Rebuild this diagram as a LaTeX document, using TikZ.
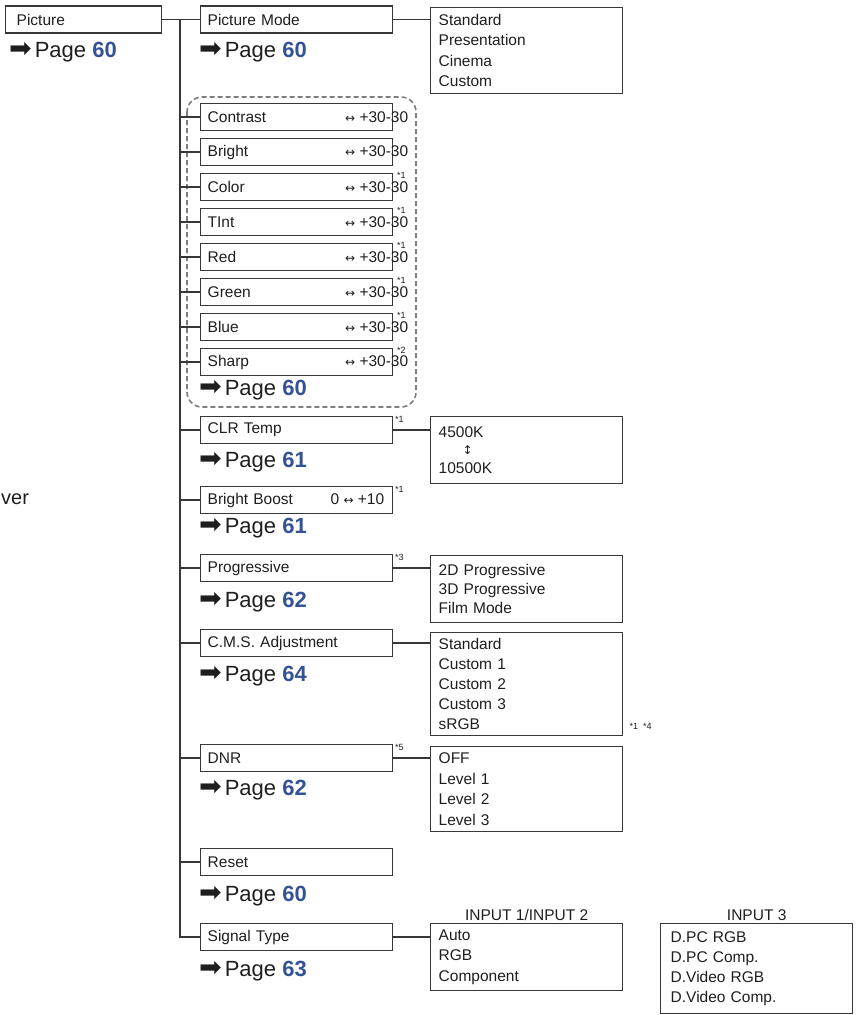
\documentclass[tikz,border=0pt]{standalone}
\usepackage{fontspec}
\setmainfont{Liberation Sans}
\newfontfamily\symfont{DejaVu Sans}
\usepackage{xcolor}
\usepackage{tikz}
\usetikzlibrary{positioning}
\definecolor{linegray}{RGB}{55,55,55}
\definecolor{dashgray}{RGB}{125,125,125}
\definecolor{pageblue}{RGB}{52,82,150}
\definecolor{inkblack}{RGB}{30,30,30}
\newcommand{\pagearrow}{{\symfont\fontsize{27}{27}\selectfont ➡}\kern3pt}
\newcommand{\pagenum}[1]{\textcolor{pageblue}{\bfseries #1}}
\newcommand{\lrarrow}{{\symfont\fontsize{12}{12}\selectfont ↔}}
\newcommand{\udarrow}{{\symfont\fontsize{12}{12}\selectfont ↕}}
\tikzset{
    menubox/.style = {rectangle, draw=linegray, line width=1.4pt, anchor=west, align=left, minimum width=192pt, minimum height=27pt, text width=178pt, inner xsep=7pt, inner ysep=0pt, font=\fontsize{15.5}{18}\selectfont},
    optbox/.style = {rectangle, draw=linegray, line width=1.4pt, anchor=north west, align=left, minimum width=192pt, text width=176pt, inner xsep=8pt, font=\fontsize{15.5}{20.5}\selectfont},
    valnode/.style = {anchor=base east, inner sep=0pt, font=\fontsize{15.5}{18}\selectfont},
    notenode/.style = {inner sep=0pt, font=\fontsize{9}{9}\selectfont},
    pagenode/.style = {anchor=base west, inner sep=0pt, font=\fontsize{22}{24}\selectfont},
    inputnode/.style = {inner sep=1pt, font=\fontsize{15.5}{18}\selectfont},
}
\begin{document}
\begin{tikzpicture}[
	x=1pt, y=-1pt,
	text=inkblack
]
\tikzset{
    edgethin/.style = {-, line width=1.2pt, linegray},
    edgethick/.style = {-, line width=2.6pt, linegray},
    trunkline/.style = {-, line width=1.5pt, linegray},
    groupline/.style = {dashgray, line width=1.6pt, dash pattern=on 5pt off 3pt, rounded corners=15pt},
}
\useasboundingbox (0,0) rectangle (857,1015);
\node[menubox, minimum width=156pt, text width=134pt, inner xsep=11pt] at (5,19.5) (pic) {Picture};
\node[pagenode] at (9,57) (picpage) {\pagearrow Page \pagenum{60}};
\node[anchor=base west, inner sep=0pt, font=\fontsize{20}{20}\selectfont] at (1,504) (vertext) {ver};
\node[menubox] at (200,19.5) (pm) {Picture Mode};
\node[pagenode] at (199,57) (pmpage) {\pagearrow Page \pagenum{60}};
\node[optbox, minimum height=86pt] at (430,7) (pmopts) {Standard\\Presentation\\Cinema\\Custom};
%
\draw[groupline] (187,97) rectangle (416,407);
\node[menubox] at (200,117) (contrast) {Contrast};
\node[menubox] at (200,152) (bright) {Bright};
\node[menubox] at (200,187) (color) {Color};
\node[menubox] at (200,222) (tint) {TInt};
\node[menubox] at (200,257) (red) {Red};
\node[menubox] at (200,292) (green) {Green};
\node[menubox] at (200,327) (blue) {Blue};
\node[menubox] at (200,362) (sharp) {Sharp};
\node[valnode] at ([xshift=15pt]contrast.base east) (contrastv) {\lrarrow\ +30-30};
\node[valnode] at ([xshift=15pt]bright.base east) (brightv) {\lrarrow\ +30-30};
\node[valnode] at ([xshift=15pt]color.base east) (colorv) {\lrarrow\ +30-30};
\node[valnode] at ([xshift=15pt]tint.base east) (tintv) {\lrarrow\ +30-30};
\node[valnode] at ([xshift=15pt]red.base east) (redv) {\lrarrow\ +30-30};
\node[valnode] at ([xshift=15pt]green.base east) (greenv) {\lrarrow\ +30-30};
\node[valnode] at ([xshift=15pt]blue.base east) (bluev) {\lrarrow\ +30-30};
\node[valnode] at ([xshift=15pt]sharp.base east) (sharpv) {\lrarrow\ +30-30};
\node[notenode] at ([xshift=8pt,yshift=-3pt]color.north east) (colorn) {*1};
\node[notenode] at ([xshift=8pt,yshift=-3pt]tint.north east) (tintn) {*1};
\node[notenode] at ([xshift=8pt,yshift=-3pt]red.north east) (redn) {*1};
\node[notenode] at ([xshift=8pt,yshift=-3pt]green.north east) (greenn) {*1};
\node[notenode] at ([xshift=8pt,yshift=-3pt]blue.north east) (bluen) {*1};
\node[notenode] at ([xshift=8pt,yshift=-3pt]sharp.north east) (sharpn) {*2};
\node[pagenode] at (199,395) (grppage) {\pagearrow Page \pagenum{60}};
%
\node[menubox] at (200,430) (clr) {CLR Temp};
\node[notenode] at ([xshift=6pt,yshift=-4pt]clr.north east) (clrn) {*1};
\node[pagenode] at (199,467) (clrpage) {\pagearrow Page \pagenum{61}};
\node[optbox, minimum height=67pt] at (430,416) (clropts) {4500K\\[-4pt]\hspace*{24pt}\udarrow\\[-1pt]10500K};
%
\node[menubox] at (200,500) (boost) {Bright Boost};
\node[valnode] at ([xshift=-9pt]boost.base east) (boostv) {0 \lrarrow\ +10};
\node[notenode] at ([xshift=6pt,yshift=-4pt]boost.north east) (boostn) {*1};
\node[pagenode] at (199,533) (boostpage) {\pagearrow Page \pagenum{61}};
%
\node[menubox] at (200,568) (prog) {Progressive};
\node[notenode] at ([xshift=6pt,yshift=-4pt]prog.north east) (progn) {*3};
\node[pagenode] at (199,607) (progpage) {\pagearrow Page \pagenum{62}};
\node[optbox, minimum height=67pt, font=\fontsize{15.5}{19}\selectfont] at (430,555) (progopts) {2D Progressive\\3D Progressive\\Film Mode};
%
\node[menubox] at (200,643) (cms) {C.M.S. Adjustment};
\node[pagenode] at (199,681) (cmspage) {\pagearrow Page \pagenum{64}};
\node[optbox, minimum height=103pt, font=\fontsize{15.5}{20}\selectfont] at (430,632) (cmsopts) {Standard\\Custom 1\\Custom 2\\Custom 3\\sRGB};
\node[notenode, anchor=west] at ([xshift=6pt,yshift=10pt]cmsopts.south east) (cmsn) {*1\hspace{5pt}*4};
%
\node[menubox] at (200,758) (dnr) {DNR};
\node[notenode] at ([xshift=6pt,yshift=-4pt]dnr.north east) (dnrn) {*5};
\node[pagenode] at (199,795) (dnrpage) {\pagearrow Page \pagenum{62}};
\node[optbox, minimum height=85pt] at (430,746) (dnropts) {OFF\\Level 1\\Level 2\\Level 3};
%
\node[menubox] at (200,862) (reset) {Reset};
\node[pagenode] at (199,901) (resetpage) {\pagearrow Page \pagenum{60}};
%
\node[menubox] at (200,937) (sig) {Signal Type};
\node[pagenode] at (199,976) (sigpage) {\pagearrow Page \pagenum{63}};
\node[optbox, minimum height=67pt] at (430,923) (in1) {Auto\\RGB\\Component};
\node[optbox, minimum height=90pt, font=\fontsize{15.5}{20}\selectfont, inner xsep=10pt, text width=172pt] at (660,923) (in3) {D.PC RGB\\D.PC Comp.\\D.Video RGB\\D.Video Comp.};
\node[inputnode, above=1pt of in1] (in1lbl) {INPUT 1/INPUT 2};
\node[inputnode, above=1pt of in3] (in3lbl) {INPUT 3};
%
\coordinate (trunk) at (180,19.5);
\draw[edgethin] (pic.east) -- (pm.west);
\draw[trunkline] (trunk) -- (trunk |- sig.west);
\draw[edgethick] ([xshift=-0.75pt]trunk |- sig.west) -- (sig.west);
%
\draw[edgethin] (trunk |- contrast.west) -- (contrast.west);
\draw[edgethin] (trunk |- bright.west) -- (bright.west);
\draw[edgethin] (trunk |- color.west) -- (color.west);
\draw[edgethin] (trunk |- tint.west) -- (tint.west);
\draw[edgethin] (trunk |- red.west) -- (red.west);
\draw[edgethick] (trunk |- green.west) -- (green.west);
\draw[edgethick] (trunk |- blue.west) -- (blue.west);
\draw[edgethick] (trunk |- sharp.west) -- (sharp.west);
\draw[edgethick] (trunk |- clr.west) -- (clr.west);
\draw[edgethin] (trunk |- boost.west) -- (boost.west);
\draw[edgethin] (trunk |- prog.west) -- (prog.west);
\draw[edgethin] (trunk |- cms.west) -- (cms.west);
\draw[edgethick] (trunk |- dnr.west) -- (dnr.west);
\draw[edgethin] (trunk |- reset.west) -- (reset.west);
%
\draw[edgethin] (pm.east) -- (pm.east -| pmopts.west);
\draw[edgethick] (clr.east) -- (clr.east -| clropts.west);
\draw[edgethin] (prog.east) -- (prog.east -| progopts.west);
\draw[edgethin] (cms.east) -- (cms.east -| cmsopts.west);
\draw[edgethick] (dnr.east) -- (dnr.east -| dnropts.west);
\draw[edgethick] (sig.east) -- (sig.east -| in1.west);
\end{tikzpicture}
\end{document}
